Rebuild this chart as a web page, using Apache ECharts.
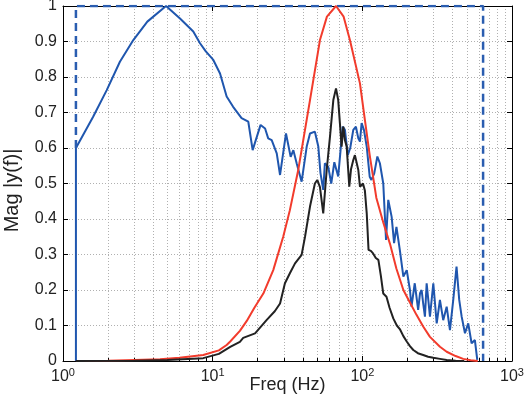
<!DOCTYPE html>
<html>
<head>
<meta charset="utf-8">
<script src="https://cdn.jsdelivr.net/npm/echarts@6/dist/echarts.min.js"></script>
<style>
  html, body { margin: 0; padding: 0; background: #fff; }
  #chart { width: 527px; height: 400px; }
</style>
</head>
<body>
<div id="chart"></div>
<script>
// spectrum of the input (blue)
var blueFreq = [1.22, 1.22, 1.59, 1.96, 2.40, 2.95, 3.66, 4.88, 6.05, 7.42, 8.23, 9.0, 10.1, 11.2, 12.4, 13.7,
  15.6, 17.3, 18.5, 20.9, 22.4, 23.5, 24.8, 26.8, 28.2, 30.9, 33.2, 34.6, 36.4, 39.3, 42.5, 44.7, 48.2, 50.8,
  52.5, 54.8, 56.2, 59.2, 62, 65, 69, 73.9, 76.5, 80, 83, 87, 90.6, 94, 96.4, 98.9, 102.5, 107, 112, 115, 120,
  126, 131, 138, 144, 149, 157, 163, 169, 178, 188, 198, 208, 213, 224, 236, 243, 249, 255, 262, 269, 283, 298,
  314, 330, 347, 366, 385, 405, 426, 444, 461, 485, 510, 537, 565, 586];
var blueMag = [0, 0.6, 0.688, 0.763, 0.843, 0.904, 0.956, 1.0, 0.965, 0.928, 0.895, 0.872, 0.848, 0.81, 0.745, 0.716,
  0.684, 0.674, 0.594, 0.665, 0.655, 0.627, 0.622, 0.585, 0.524, 0.641, 0.575, 0.594, 0.557, 0.505, 0.604, 0.641, 0.646, 0.604,
  0.53, 0.482, 0.557, 0.547, 0.5, 0.56, 0.52, 0.66, 0.651, 0.58, 0.6, 0.651, 0.66, 0.627, 0.618, 0.67, 0.651, 0.604, 0.519, 0.51, 0.528,
  0.576, 0.557, 0.5, 0.341, 0.454, 0.406, 0.332, 0.378, 0.313, 0.238, 0.256, 0.2, 0.153, 0.219, 0.144, 0.191, 0.2, 0.162, 0.125, 0.219, 0.125, 0.219,
  0.106, 0.172, 0.115, 0.153, 0.087, 0.172, 0.266, 0.172, 0.125, 0.078, 0.106, 0.05, 0.059, 0.003];

// band limits (dashed blue)
var bandFreq = [1.22, 1.22, 641, 641];
var bandMag = [0.6, 1, 1, 0];

// filter response (red)
var redFreq = [1.22, 2, 3, 4.45, 6, 8.65, 11, 12.4, 13.1, 15.2, 16.9, 19, 21.8, 25.4, 29.6, 32.8, 37.3, 44.7, 52.1, 58,
  66.7, 75, 82.6, 96.4, 104, 112, 124, 138, 153, 169, 188, 208, 230, 255, 283, 330, 366, 420, 472, 530, 590];
var redMag = [0, 0.001, 0.003, 0.005, 0.009, 0.017, 0.03, 0.045, 0.055, 0.085, 0.113, 0.15, 0.19, 0.256, 0.35, 0.425, 0.538, 0.735, 0.904, 0.97,
  1, 0.97, 0.904, 0.782, 0.679, 0.58, 0.46, 0.39, 0.33, 0.26, 0.2, 0.165, 0.13, 0.097, 0.068, 0.04, 0.026, 0.014, 0.006, 0.002, 0];

// filtered output (black)
var blackFreq = [1.22, 3, 5, 8.65, 11, 13.1, 15.2, 16, 19.2, 22.9, 26, 28.2, 30.4, 32.8, 35.5, 39.3, 41.4, 44.7, 48.2, 50,
  52.1, 54.8, 57.8, 60.8, 64, 66.7, 69, 70.8, 72.7, 74.6, 76.5, 78.6, 81.8, 84, 87, 89.2, 94, 96.4, 101, 104, 107, 110,
  114, 118, 123, 128, 133, 138, 145, 152, 161, 170, 178, 188, 198, 208, 219, 235, 255, 275, 298, 330, 366, 420, 480];
var blackMag = [0, 0.001, 0.003, 0.008, 0.02, 0.04, 0.054, 0.065, 0.078, 0.115, 0.14, 0.162, 0.219, 0.247, 0.275, 0.299, 0.35, 0.435, 0.5, 0.51,
  0.49, 0.416, 0.538, 0.632, 0.735, 0.768, 0.735, 0.67, 0.604, 0.66, 0.622, 0.604, 0.491, 0.54, 0.566, 0.58, 0.538, 0.491, 0.5, 0.48, 0.416, 0.313,
  0.31, 0.303, 0.29, 0.285, 0.24, 0.19, 0.181, 0.15, 0.12, 0.1, 0.09, 0.07, 0.055, 0.042, 0.031, 0.022, 0.017, 0.012, 0.009, 0.006, 0.003, 0.001, 0];

var yTicks = [0, 0.1, 0.2, 0.3, 0.4, 0.5, 0.6, 0.7, 0.8, 0.9, 1];

function pairs(xs, ys) {
  return xs.map(function (x, i) { return [x, ys[i]]; });
}

var font = "'Liberation Sans', Arial, Helvetica, sans-serif";
var gridLine = { show: true, lineStyle: { color: '#b0b0b0', width: 1, type: [1, 2] } };

var myChart = echarts.init(document.getElementById('chart'), null, { renderer: 'canvas' });
myChart.setOption({
  animation: false,
  grid: { left: 63, right: 15, top: 6, bottom: 39, containLabel: false, outerBoundsMode: 'none' },
  xAxis: [
    {
      type: 'log',
      logBase: 10,
      min: 1,
      max: 1000,
      name: 'Freq (Hz)',
      nameLocation: 'middle',
      nameGap: 15,
      nameMoveOverlap: false,
      nameTextStyle: { fontFamily: font, fontSize: 18, color: '#222' },
      axisLine: { show: true, onZero: false, lineStyle: { color: '#000', width: 1 } },
      axisTick: { show: true, inside: true, length: 5, lineStyle: { color: '#000' } },
      minorTick: { show: true, splitNumber: 9, length: 3, lineStyle: { color: '#000' } },
      minorSplitLine: gridLine,
      splitLine: gridLine,
      axisLabel: {
        margin: 6,
        formatter: function (v) {
          return '{b|10}{s|' + Math.round(Math.log10(v)) + '}';
        },
        rich: {
          b: { fontFamily: font, fontSize: 16, color: '#222', lineHeight: 20 },
          s: { fontFamily: font, fontSize: 11, color: '#222', verticalAlign: 'top', lineHeight: 20 }
        }
      }
    },
    {
      type: 'log',
      logBase: 10,
      min: 1,
      max: 1000,
      position: 'top',
      axisLine: { show: true, onZero: false, lineStyle: { color: '#000', width: 1 } },
      axisTick: { show: true, inside: true, length: 5, lineStyle: { color: '#000' } },
      axisLabel: { show: false },
      splitLine: { show: false }
    }
  ],
  yAxis: [
    {
      type: 'value',
      min: 0,
      max: 1,
      interval: 0.1,
      name: 'Mag |y(f)|',
      nameLocation: 'middle',
      nameGap: 41,
      nameMoveOverlap: false,
      nameTextStyle: { fontFamily: font, fontSize: 20, color: '#222', padding: [0, 14, 0, 0] },
      axisLine: { show: true, onZero: false, lineStyle: { color: '#000', width: 1 } },
      axisTick: { show: true, inside: true, length: 5, lineStyle: { color: '#000' } },
      splitLine: gridLine,
      axisLabel: {
        margin: 6,
        fontFamily: font,
        fontSize: 16,
        color: '#222',
        customValues: yTicks
      }
    },
    {
      type: 'value',
      min: 0,
      max: 1,
      interval: 0.1,
      position: 'right',
      axisLine: { show: true, onZero: false, lineStyle: { color: '#000', width: 1 } },
      axisTick: { show: true, inside: true, length: 5, lineStyle: { color: '#000' } },
      axisLabel: { show: false },
      splitLine: { show: false }
    }
  ],
  series: [
    {
      name: 'input',
      type: 'line',
      data: pairs(blueFreq, blueMag),
      showSymbol: false,
      lineStyle: { color: '#1f56ae', width: 2 },
      z: 2
    },
    {
      name: 'band',
      type: 'line',
      data: pairs(bandFreq, bandMag),
      showSymbol: false,
      lineStyle: { color: '#2a5db0', width: 2.5, type: [8, 5] },
      z: 3
    },
    {
      name: 'filter',
      type: 'line',
      data: pairs(redFreq, redMag),
      showSymbol: false,
      lineStyle: { color: '#f23b2c', width: 2 },
      z: 4
    },
    {
      name: 'output',
      type: 'line',
      data: pairs(blackFreq, blackMag),
      showSymbol: false,
      lineStyle: { color: '#222222', width: 2 },
      z: 5
    }
  ]
});
window.addEventListener('resize', function () {
  myChart.resize();
});
</script>
</body>
</html>
